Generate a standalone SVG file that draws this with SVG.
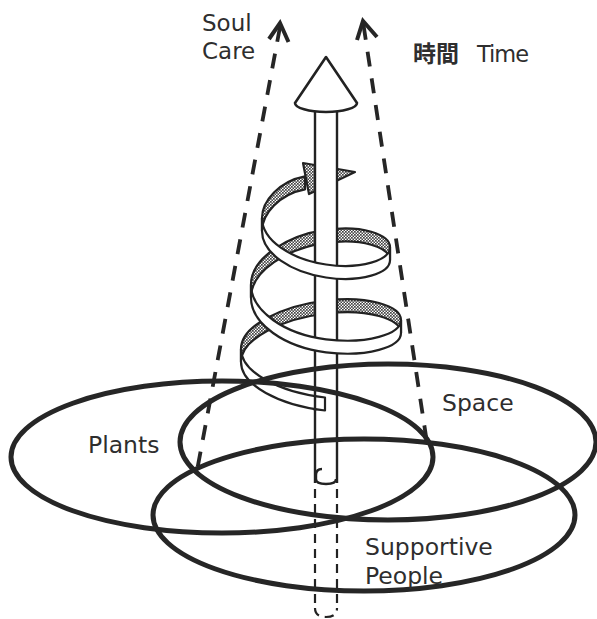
<svg xmlns="http://www.w3.org/2000/svg" width="597" height="619" viewBox="0 0 597 619">
<defs>
<pattern id="dots" width="3" height="3" patternUnits="userSpaceOnUse">
<rect width="3" height="3" fill="#fff"/>
<rect x="0" y="0" width="1.7" height="1.7" fill="#444"/>
<rect x="1.5" y="1.5" width="1.7" height="1.7" fill="#444"/>
</pattern>
<style>
.back{fill:url(#dots);stroke:#222;stroke-width:2.2;stroke-linejoin:round}
.front{fill:#fff;stroke:#222;stroke-width:2.2;stroke-linejoin:round}
.ell{fill:none;stroke:#262626;stroke-width:5}
.cone{fill:none;stroke:#262626;stroke-width:3.8;stroke-dasharray:15 12}
.chev{fill:none;stroke:#262626;stroke-width:4;stroke-linejoin:miter}
.rodl{stroke:#222;stroke-width:2.4;fill:none}
.rodd{stroke:#222;stroke-width:2.2;fill:none;stroke-dasharray:9 6}
.lbl{font-family:"DejaVu Sans","Liberation Sans",sans-serif;fill:#2e2e2e;font-size:23.5px}
.cjk{font-family:"Noto Sans CJK JP","Noto Sans CJK SC",sans-serif;fill:#2e2e2e;font-size:23px;font-weight:bold}
</style>
</defs>
<rect width="597" height="619" fill="#fff"/>

<g id="spiral-back">
<path class="back" d="M305,176.3 C279.6,181 262,200.8 262,218 L262,231 C262,213.8 279.6,194 305,189.3 Z"/>
<path class="back" d="M303,163 L355,172 L309,194 Z"/>
<path class="back" d="M390,247.2 C390,234.25 361.2,224.7 326,229.9 C287.5,235.1 251,257.95 251,284.6 L251,297.6 C251,270.95 287.5,248.1 326,242.9 C361.2,237.7 390,247.25 390,260.2 Z"/>
<path class="back" d="M401,319.9 C401,305.8 367.25,295.3 326,300.5 C282,305.7 241,325.8 241,349 L241,362 C241,338.8 282,318.7 326,313.5 C367.25,308.3 401,318.8 401,332.9 Z"/>
</g>

<g id="time-arrow">
<rect x="315" y="100" width="22" height="383" fill="#fff"/>
<line class="rodl" x1="315" y1="100" x2="315" y2="483"/>
<line class="rodl" x1="337" y1="100" x2="337" y2="483"/>
<path d="M326,57 L295,103 A31,9 0 0 0 357,103 Z" fill="#fff" stroke="#222" stroke-width="2.6" stroke-linejoin="round"/>
</g>

<g id="spiral-front">
<path class="front" d="M262,218 C262,240.3 290.8,259.3 326,264.5 C361.2,269.7 390,260.15 390,247.2 L390,260.2 C390,273.15 361.2,282.7 326,277.5 C290.8,272.3 262,253.3 262,231 Z"/>
<path class="front" d="M251,284.6 C251,311.25 284.75,334.1 326,339.3 C367.25,344.5 401,334 401,319.9 L401,332.9 C401,347 367.25,357.5 326,352.3 C284.75,347.1 251,324.25 251,297.6 Z"/>
<path class="front" d="M241,349 C241,372.2 279.25,392.3 325,397.5 L325,410.5 C279.25,405.3 241,385.2 241,362 Z"/>
<line class="rodl" x1="315" y1="396" x2="315" y2="411"/>
</g>

<g id="rod-base">
<path class="rodl" d="M322,469 Q316,469 316,475 L316,479 Q316,484 326,484 Q336,484 336,479"/>
<line class="rodd" x1="315" y1="489" x2="315" y2="608"/>
<line class="rodd" x1="337" y1="489" x2="337" y2="608"/>
<path class="rodd" d="M315,608 Q315,617 326,617 Q337,617 337,608"/>
</g>

<g id="connectors">
<line class="cone" x1="280" y1="27" x2="197.5" y2="468"/>
<polyline class="chev" points="269,39 280,23 288.5,42"/>
<line class="cone" x1="363.5" y1="25" x2="427" y2="443"/>
<polyline class="chev" points="357,40 363,21 377,37"/>
</g>

<g id="plants">
<ellipse class="ell" cx="222" cy="457" rx="211" ry="76"/>
<text class="lbl" x="88" y="453">Plants</text>
</g>
<g id="space">
<ellipse class="ell" cx="388" cy="442" rx="208" ry="78"/>
<text class="lbl" x="442" y="411">Space</text>
</g>
<g id="supportive-people">
<ellipse class="ell" cx="364" cy="515" rx="211" ry="76"/>
<text class="lbl" x="365" y="555">Supportive</text>
<text class="lbl" x="365" y="584">People</text>
</g>

<g id="soul-care">
<text class="lbl" x="202" y="31" style="font-size:23px">Soul</text>
<text class="lbl" x="202" y="59" style="font-size:23px">Care</text>
</g>
<g id="time">
<text class="cjk" x="413" y="62">時間</text>
<text class="lbl" x="477" y="62" style="font-size:22.5px" textLength="52">Time</text>
</g>
</svg>
